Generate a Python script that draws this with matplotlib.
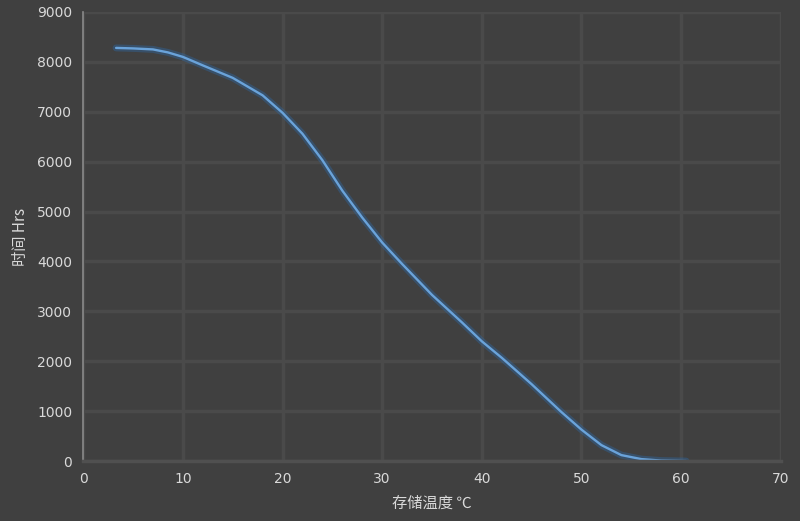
import matplotlib
matplotlib.use('Agg')
import matplotlib.pyplot as plt

plt.rcParams['font.family'] = ['Noto Sans CJK SC', 'DejaVu Sans']

# storage temperature (C) vs time (Hrs)
temp = [3.3, 5, 7, 8.5, 10, 12, 15, 18, 20, 22, 24, 26, 28, 30, 32, 35, 38,
        40, 42, 45, 48, 50, 52, 54, 56, 58, 60.5]
hours = [8280, 8270, 8250, 8190, 8100, 7930, 7680, 7330, 6980, 6560, 6030,
         5420, 4880, 4380, 3950, 3330, 2780, 2400, 2070, 1540, 980, 630,
         320, 120, 40, 10, 0]

xticks = [0, 10, 20, 30, 40, 50, 60, 70]
yticks = [0, 1000, 2000, 3000, 4000, 5000, 6000, 7000, 8000, 9000]

bg = '#404040'
txt = '#d9d9d9'

fig = plt.figure(figsize=(8, 5.21), dpi=100, facecolor=bg)
ax = fig.add_axes([0.104, 0.115, 0.872, 0.862], facecolor=bg)

# glow + line
ax.plot(temp, hours, color='#2d6aa8', lw=5, alpha=0.4, solid_capstyle='round')
ax.plot(temp, hours, color='#6aa3da', lw=1.7, solid_capstyle='round')

ax.set_xlim(0, 70)
ax.set_ylim(0, 9000)
ax.set_xticks(xticks)
ax.set_yticks(yticks)
ax.grid(True, color='#4a4a4a', lw=2.5)
ax.set_axisbelow(True)

for s in ['top', 'right']:
    ax.spines[s].set_visible(False)
ax.spines['left'].set_color('#8a8a8a')
ax.spines['left'].set_linewidth(1.2)
ax.spines['bottom'].set_color('#505050')
ax.spines['bottom'].set_linewidth(2.5)

ax.tick_params(colors=txt, length=0, labelsize=10, pad=8)
for lab in ax.get_xticklabels() + ax.get_yticklabels():
    lab.set_family('DejaVu Sans')
    lab.set_color(txt)

ax.set_xlabel('存储温度 ℃', color=txt, fontsize=11, labelpad=6)
ax.set_ylabel('时间 Hrs', color=txt, fontsize=11, labelpad=6)

fig.savefig('out.png', dpi=100, facecolor=bg)
